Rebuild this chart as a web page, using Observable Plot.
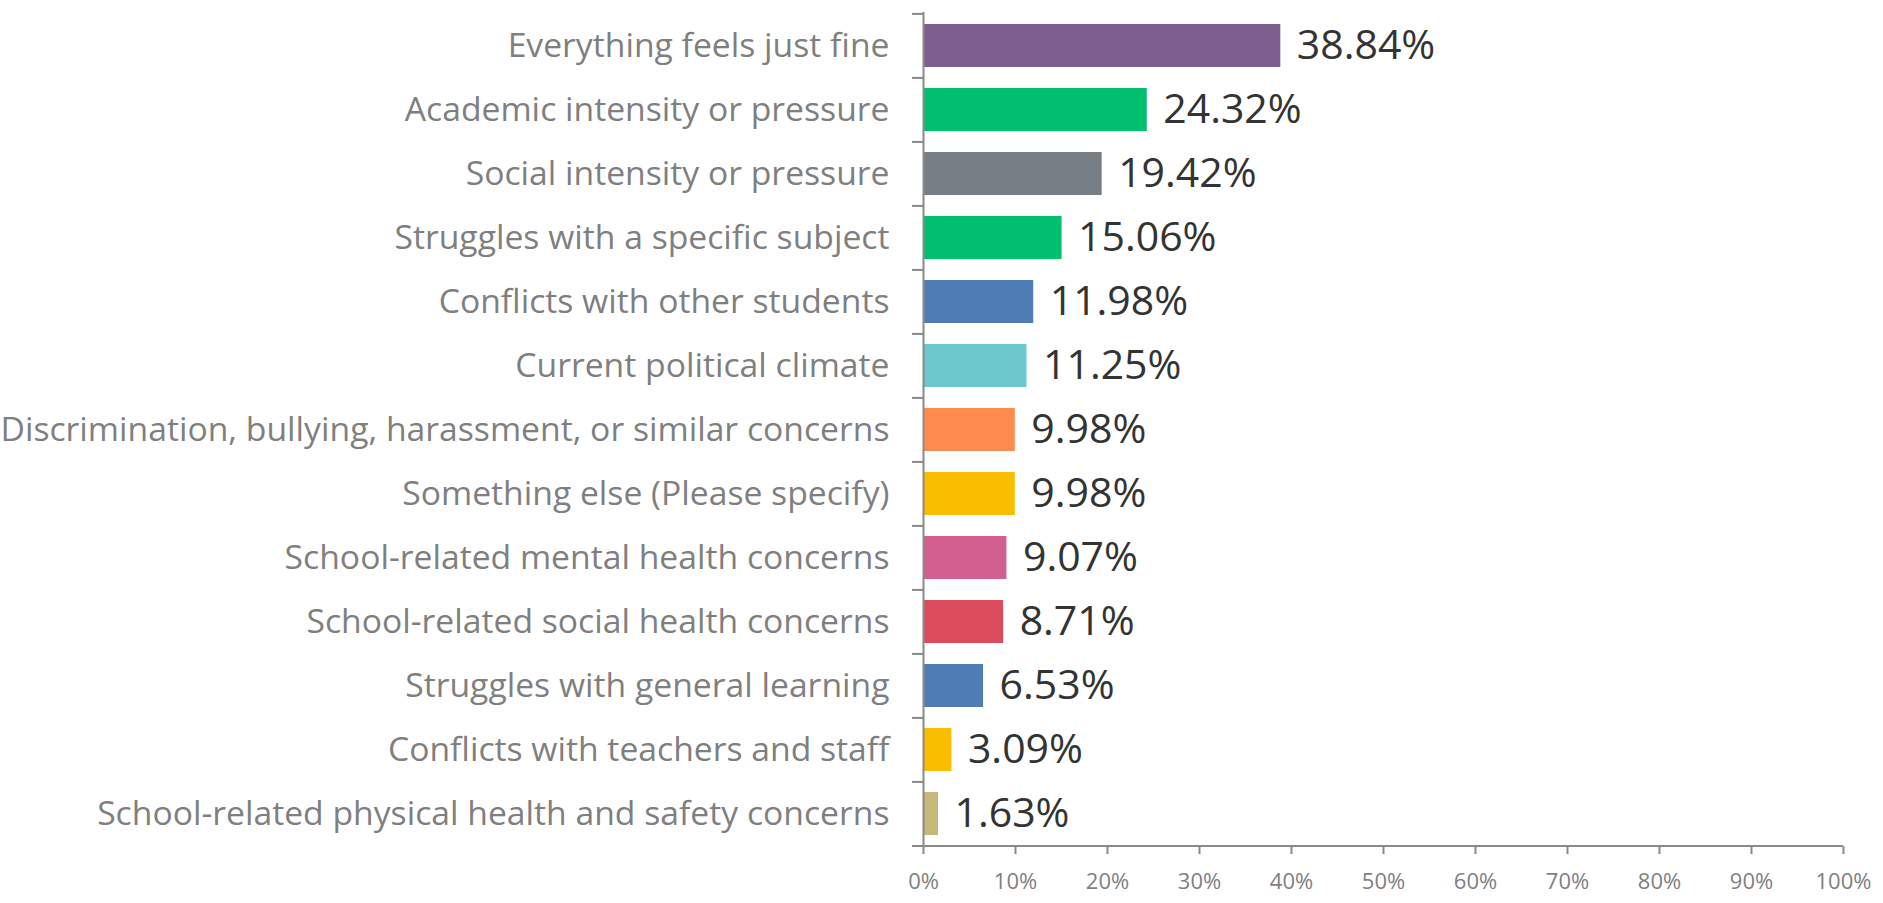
<!DOCTYPE html>
<html>
<head>
<meta charset="utf-8">
<script src="https://cdn.jsdelivr.net/npm/d3@7"></script>
<script src="https://cdn.jsdelivr.net/npm/@observablehq/plot@0.6"></script>
<style>
  html, body { margin: 0; padding: 0; background: #ffffff; }
  #chart { width: 1883px; height: 903px; }
</style>
</head>
<body>
<div id="chart"></div>
<script>
const categories = [
  "Everything feels just fine",
  "Academic intensity or pressure",
  "Social intensity or pressure",
  "Struggles with a specific subject",
  "Conflicts with other students",
  "Current political climate",
  "Discrimination, bullying, harassment, or similar concerns",
  "Something else (Please specify)",
  "School-related mental health concerns",
  "School-related social health concerns",
  "Struggles with general learning",
  "Conflicts with teachers and staff",
  "School-related physical health and safety concerns"
];
const values = [38.84, 24.32, 19.42, 15.06, 11.98, 11.25, 9.98, 9.98, 9.07, 8.71, 6.53, 3.09, 1.63];
const colors = [
  "#7d5e8f", "#00bf6f", "#777f86", "#00bf6f", "#507cb6", "#6bc8cd", "#ff8b4f",
  "#f9be00", "#d25f90", "#db4d5c", "#507cb6", "#f9be00", "#c7b879"
];
const xTicks = [0, 10, 20, 30, 40, 50, 60, 70, 80, 90, 100];

const data = categories.map((c, i) => ({category: c, value: values[i], color: colors[i]}));

const W = 1883, H = 903;
const mTop = 12, mBottom = 57, mLeft = 923, mRight = 40;
const step = (H - mTop - mBottom) / categories.length;
const axisColor = "#8a8a8a";
const labelColor = "#7f7f7f";

const chart = Plot.plot({
  width: W,
  height: H,
  marginTop: mTop,
  marginBottom: mBottom,
  marginLeft: mLeft,
  marginRight: mRight,
  style: {fontFamily: "'Open Sans', sans-serif", background: "#ffffff"},
  x: {domain: [0, 100]},
  y: {domain: categories, paddingInner: 0.33, paddingOuter: 0.165, align: 0.5},
  color: {type: "identity"},
  marks: [
    Plot.barX(data, {y: "category", x: "value", fill: "color"}),
    Plot.text(data, {
      y: "category", x: "value",
      text: d => d3.format(".2f")(d.value) + "%",
      textAnchor: "start", dx: 16,
      fontSize: 41, fill: "#333333"
    }),
    Plot.ruleX([0], {stroke: axisColor, strokeWidth: 2}),
    Plot.ruleY(categories, {y: d => d, x1: -1.2, x2: 0, dy: -step / 2, stroke: axisColor, strokeWidth: 2}),
    Plot.ruleY([categories[categories.length - 1]], {y: d => d, x1: -1.2, x2: 100, dy: step / 2, stroke: axisColor, strokeWidth: 2}),
    Plot.axisY({
      tickSize: 0, tickPadding: 34, fontSize: 33.7,
      fill: labelColor, label: null
    }),
    Plot.axisX({
      ticks: xTicks, tickFormat: d => d + "%",
      tickSize: 8, tickPadding: 19, fontSize: 22,
      stroke: axisColor, strokeWidth: 2, fill: labelColor, label: null
    })
  ]
});

document.getElementById("chart").appendChild(chart);
</script>
</body>
</html>
